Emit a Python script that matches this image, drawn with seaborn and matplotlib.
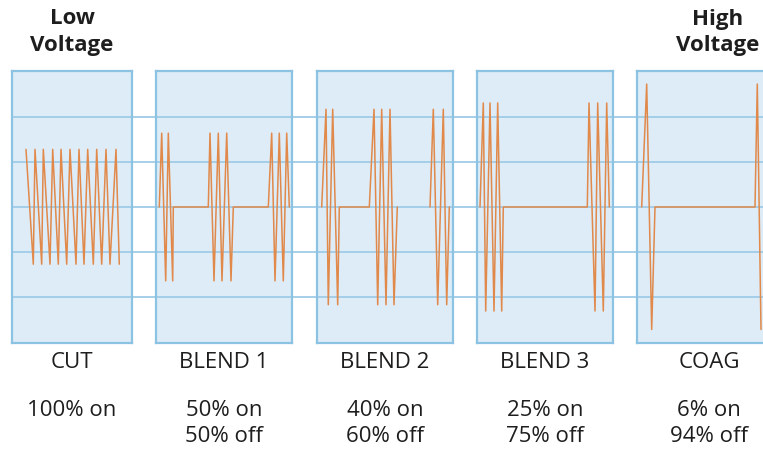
import numpy as np
import pandas as pd
import matplotlib
matplotlib.use("Agg")
import matplotlib.pyplot as plt
import seaborn as sns

# waveform data: time (local panel units) and voltage, one list per segment
cut_t = [14, 21.3, 23, 29.7, 31.3, 38, 40.7, 46.3, 49, 54.7, 58, 64, 67, 72,
         75.7, 81.3, 84.7, 89.7, 94, 98, 104, 107.3]
cut_v = [1.28, -1.27, 1.28, -1.27, 1.28, -1.27, 1.28, -1.27, 1.28, -1.27, 1.28,
         -1.27, 1.28, -1.27, 1.28, -1.27, 1.28, -1.27, 1.28, -1.27, 1.28, -1.27]

blend1_t = [3.3, 5.7, 9.7, 12.3, 16.7, 17.3, 52.3, 54, 58, 62.3, 66, 70.7, 75,
            77.3, 112.3, 115.7, 119, 123.3, 127.3, 130.7, 133.3]
blend1_v = [0, 1.64, -1.64, 1.64, -1.64, 0, 0, 1.64, -1.64, 1.64, -1.64, 1.64,
            -1.64, 0, 0, 1.64, -1.64, 1.64, -1.64, 1.64, 0]

blend2a_t = [4.7, 9, 11.3, 15.7, 20.7, 22.3, 52.3, 57, 60.7, 64.7, 69, 73, 77, 80.3]
blend2a_v = [0, 2.17, -2.17, 2.17, -2.17, 0, 0, 2.17, -2.17, 2.17, -2.17, 2.17, -2.17, 0]
blend2b_t = [113, 116.3, 120.7, 126.3, 129.7, 132.3]
blend2b_v = [0, 2.17, -2.17, 2.17, -2.17, 0]

blend3_t = [3, 6.3, 8.7, 13, 17, 20.7, 24.7, 26.3, 110.3, 112, 118, 120.7,
            126.3, 129.7, 132.3]
blend3_v = [0, 2.31, -2.31, 2.31, -2.31, 2.31, -2.31, 0, 0, 2.31, -2.31, 2.31,
            -2.31, 2.31, 0]

coag_t = [4.7, 9.7, 14.7, 18, 118, 120.3, 124]
coag_v = [0, 2.73, -2.72, 0, 0, 2.73, -2.72]

modes = ["CUT", "BLEND 1", "BLEND 2", "BLEND 3", "COAG"]
duty = ["100% on", "50% on\n50% off", "40% on\n60% off", "25% on\n75% off", "6% on\n94% off"]
segments = [
    [(cut_t, cut_v)],
    [(blend1_t, blend1_v)],
    [(blend2a_t, blend2a_v), (blend2b_t, blend2b_v)],
    [(blend3_t, blend3_v)],
    [(coag_t, coag_v)],
]
grid_levels = [-2, -1, 0, 1, 2]

# layout (pixels)
W, H = 763, 450
panel_left = [12, 156, 317, 477, 637]
panel_width = [120, 136, 136, 136, 136]
panel_top, panel_bot = 71, 343
ylim = (-3.02, 3.02)

fill = "#deecf8"
edge = "#8cc2e2"
gridc = "#9fcbe7"
orange = "#e0894a"
textc = "#1e1e1e"

sns.set_theme(style="white")
plt.rcParams["font.family"] = ["Open Sans", "DejaVu Sans"]

fig = plt.figure(figsize=(W / 100, H / 100), dpi=100)
fb = 1 - panel_bot / H
fh = (panel_bot - panel_top) / H

bg = fig.add_axes([panel_left[0] / W, fb, 1 - panel_left[0] / W, fh], zorder=0)
bg.set_ylim(*ylim)
bg.axis("off")
for g in grid_levels:
    bg.axhline(g, color=gridc, lw=1.3)

for i, name in enumerate(modes):
    ax = fig.add_axes([panel_left[i] / W, fb, panel_width[i] / W, fh], zorder=2)
    ax.set_facecolor(fill)
    for g in grid_levels:
        ax.axhline(g, color=gridc, lw=1.3, zorder=1)
    rows = []
    for k, (t, v) in enumerate(segments[i]):
        rows.append(pd.DataFrame({"t": t, "v": v, "seg": k}))
    df = pd.concat(rows, ignore_index=True)
    sns.lineplot(data=df, x="t", y="v", units="seg", estimator=None, sort=False,
                 color=orange, lw=1.1, ax=ax, zorder=3)
    ax.set_xlim(0, panel_width[i])
    ax.set_ylim(*ylim)
    ax.set_xticks([])
    ax.set_yticks([])
    ax.set_xlabel("")
    ax.set_ylabel("")
    for s in ax.spines.values():
        s.set_color(edge)
        s.set_linewidth(1.6)
        s.set_visible(True)

    cx = (panel_left[i] + panel_width[i] / 2) / W
    if i == 4:
        cx = 709 / W
    fig.text(cx, 1 - 363 / H, name, ha="center", va="center", fontsize=16, color=textc)
    fig.text(cx, 1 - 410 / H, duty[i].split("\n")[0], ha="center", va="center",
             fontsize=16, color=textc)
    if "\n" in duty[i]:
        fig.text(cx, 1 - 436 / H, duty[i].split("\n")[1], ha="center", va="center",
                 fontsize=16, color=textc)

fig.text(72 / W, 1 - 19 / H, "Low", ha="center", va="center", fontsize=16,
         fontweight="bold", color=textc)
fig.text(72 / W, 1 - 46 / H, "Voltage", ha="center", va="center", fontsize=16,
         fontweight="bold", color=textc)
fig.text(718 / W, 1 - 19 / H, "High", ha="center", va="center", fontsize=16,
         fontweight="bold", color=textc)
fig.text(718 / W, 1 - 46 / H, "Voltage", ha="center", va="center", fontsize=16,
         fontweight="bold", color=textc)

fig.savefig("out.png", dpi=100)
